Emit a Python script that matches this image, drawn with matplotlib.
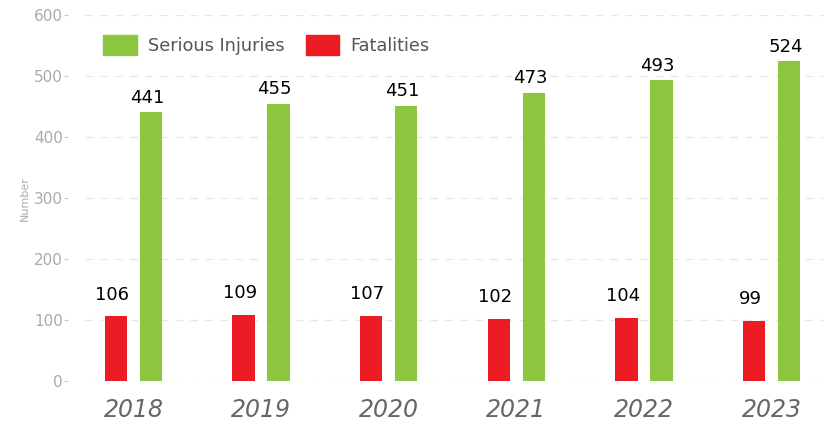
import numpy as np
import matplotlib.pyplot as plt
from matplotlib.patches import Patch

years = ['2018', '2019', '2020', '2021', '2022', '2023']
injuries = [441, 455, 451, 473, 493, 524]
fatalities = [106, 109, 107, 102, 104, 99]

green = '#8cc63f'
red = '#ec1c24'

fig = plt.figure(figsize=(8.24, 4.21), dpi=100)
ax = fig.add_axes([0.083, 0.095, 0.917, 0.869])

x = np.arange(len(years))
off = 0.137
w = 0.175
ax.bar(x - off, fatalities, w, color=red, zorder=3)
ax.bar(x + off, injuries, w, color=green, zorder=3)

for i in range(len(years)):
    ax.annotate(str(fatalities[i]), (x[i] - off - 0.03, fatalities[i]), xytext=(0, 9),
                textcoords='offset points', ha='center', va='bottom', fontsize=13, color='black')
    ax.annotate(str(injuries[i]), (x[i] + off - 0.03, injuries[i]), xytext=(0, 4),
                textcoords='offset points', ha='center', va='bottom', fontsize=13, color='black')

ax.set_ylim(0, 600)
ax.set_xlim(-0.51, 5.41)
ticks = list(range(0, 601, 100))
ax.set_yticks(ticks)
# dashed guide lines start a little right of the axis
ax.hlines(ticks, -0.38, 5.41, colors='#e6e6e6', linestyles=(0, (6, 6)), linewidth=0.9, zorder=0)
ax.set_xticks(x)
ax.set_xticklabels(years, fontsize=17, style='italic', color='#666666')
ax.tick_params(axis='x', length=0, pad=12)
ax.tick_params(axis='y', length=3, color='#cccccc', labelcolor='#aaaaaa', labelsize=11, pad=1)
ax.set_ylabel('Number', fontsize=8, color='#aaaaaa', labelpad=3)
for s in ax.spines.values():
    s.set_visible(False)

handles = [Patch(color=green, label='Serious Injuries'), Patch(color=red, label='Fatalities')]
ax.legend(handles=handles, loc='upper left', bbox_to_anchor=(0.025, 0.99), ncol=2, frameon=False,
          fontsize=12.8, labelcolor='#555555', handlelength=1.9, handleheight=1.35,
          handletextpad=0.6, columnspacing=1.2)

fig.savefig('out.png', dpi=100)
